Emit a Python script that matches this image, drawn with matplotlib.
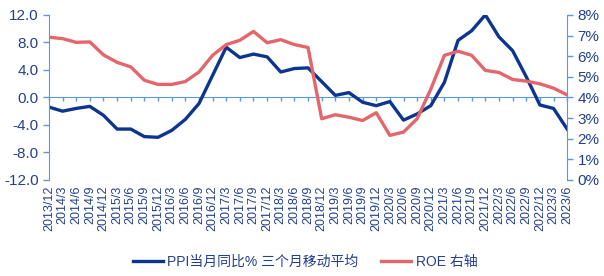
import matplotlib
matplotlib.use("Agg")
import matplotlib.pyplot as plt

plt.rcParams['font.family'] = ['Liberation Sans', 'Noto Sans CJK SC', 'DejaVu Sans']

# 季度标签
quarters = ["2013/12",
            "2014/3", "2014/6", "2014/9", "2014/12",
            "2015/3", "2015/6", "2015/9", "2015/12",
            "2016/3", "2016/6", "2016/9", "2016/12",
            "2017/3", "2017/6", "2017/9", "2017/12",
            "2018/3", "2018/6", "2018/9", "2018/12",
            "2019/3", "2019/6", "2019/9", "2019/12",
            "2020/3", "2020/6", "2020/9", "2020/12",
            "2021/3", "2021/6", "2021/9", "2021/12",
            "2022/3", "2022/6", "2022/9", "2022/12",
            "2023/3", "2023/6"]

# PPI当月同比% 三个月移动平均（左轴）
ppi = [-1.4, -2.0, -1.6, -1.3, -2.6, -4.6, -4.6, -5.7, -5.8,
       -4.8, -3.2, -0.9, 3.2, 7.3, 5.8, 6.3, 5.9, 3.7, 4.2,
       4.3, 2.3, 0.3, 0.7, -0.7, -1.2, -0.6, -3.3, -2.4, -1.2,
       2.2, 8.3, 9.7, 12.0, 8.8, 6.8, 3.0, -1.1, -1.6, -4.6]

# ROE（右轴，%）
roe = [6.92, 6.85, 6.67, 6.69, 6.06, 5.70, 5.48, 4.83, 4.63,
       4.63, 4.77, 5.23, 6.04, 6.56, 6.77, 7.20, 6.65, 6.80, 6.56,
       6.42, 2.97, 3.16, 3.04, 2.88, 3.26, 2.16, 2.32, 2.97, 4.40,
       6.04, 6.24, 6.04, 5.31, 5.21, 4.87, 4.79, 4.66, 4.45, 4.12]

axis_color = '#5b9bd5'
text_color = '#23408e'
blue = '#0c3590'
red = '#e5666a'

x = list(range(len(quarters)))

fig = plt.figure(figsize=(6.04, 2.76), dpi=100)
ax = fig.add_axes([0.081, 0.348, 0.858, 0.598])

ax.plot(x, ppi, color=blue, lw=2.4, label="PPI当月同比% 三个月移动平均", solid_joinstyle='round')
ax.set_xlim(0, len(quarters) - 1)
ax.set_ylim(-12, 12)
ax.set_yticks([-12, -8, -4, 0, 4, 8, 12])
ax.set_yticklabels(["-12.0", "-8.0", "-4.0", "0.0", "4.0", "8.0", "12.0"])

ax.set_xticks(x)
ax.set_xticklabels(quarters, rotation=90, fontsize=9, color=text_color)
ax.tick_params(axis='x', length=0, pad=4)
ax.tick_params(axis='y', direction='out', length=4, color=axis_color,
               labelsize=11, labelcolor=text_color, width=1)

for s in ['top', 'right', 'bottom']:
    ax.spines[s].set_visible(False)
ax.spines['left'].set_color(axis_color)

# 零轴及刻度
zero_ax = ax.secondary_xaxis(0, transform=ax.transData)
zero_ax.set_xticks(x)
zero_ax.tick_params(direction='out', length=3, color=axis_color, labelbottom=False, width=1)
zero_ax.spines['bottom'].set_color(axis_color)

ax2 = ax.twinx()
ax2.plot(x, roe, color=red, lw=2.4, label="ROE 右轴", solid_joinstyle='round')
ax2.set_ylim(0, 8)
ax2.set_yticks(range(0, 9))
ax2.set_yticklabels([f"{v}%" for v in range(0, 9)])
ax2.tick_params(axis='y', direction='out', length=4, color=axis_color,
                labelsize=11, labelcolor=text_color, width=1)
for s in ['top', 'left', 'bottom']:
    ax2.spines[s].set_visible(False)
ax2.spines['right'].set_color(axis_color)

h1, l1 = ax.get_legend_handles_labels()
h2, l2 = ax2.get_legend_handles_labels()
fig.legend(h1 + h2, l1 + l2, loc='center', bbox_to_anchor=(0.505, 0.05), ncol=2,
           frameon=False, fontsize=10, handlelength=2.2, columnspacing=1.6,
           labelcolor=text_color, handletextpad=0.3)

fig.savefig("out.png", dpi=100)
